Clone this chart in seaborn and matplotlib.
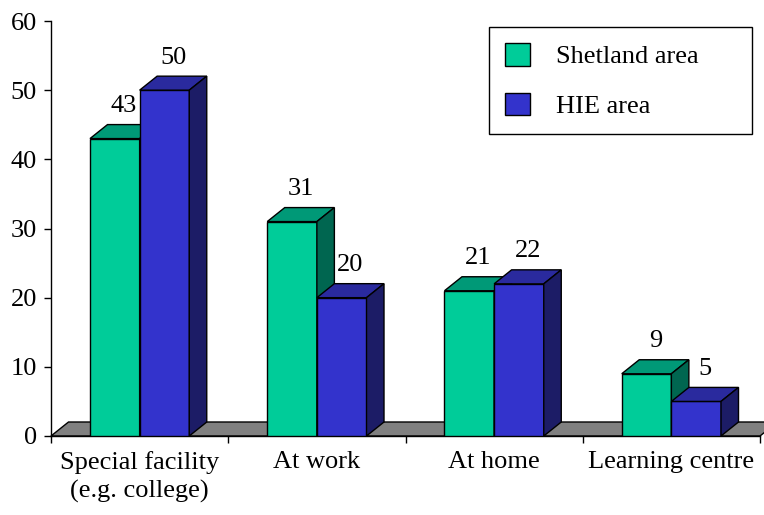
import matplotlib
matplotlib.use("Agg")
import matplotlib.pyplot as plt
import numpy as np
import pandas as pd
import seaborn as sns
from matplotlib.patches import Polygon, Patch

# ---------------- data ----------------
categories = ["Special facility\n(e.g. college)", "At work", "At home", "Learning centre"]
series_names = ["Shetland area", "HIE area"]
shetland = [43, 31, 21, 9]
hie = [50, 20, 22, 5]
y_ticks = [0, 10, 20, 30, 40, 50, 60]

# ---------------- style ----------------
front_col = {"Shetland area": "#00CC99", "HIE area": "#3333CC"}
top_col = {"Shetland area": "#009977", "HIE area": "#2A2A9E"}
side_col = {"Shetland area": "#006650", "HIE area": "#1C1C66"}
FS = 19
DX_PX, DY_PX = 17.5, 14.0   # depth offset of the 3-D look, in pixels

sns.set_theme(style="ticks")
plt.rcParams["font.family"] = ["Liberation Serif", "DejaVu Serif"]
plt.rcParams.update({
    "text.color": "black", "axes.labelcolor": "black",
    "xtick.color": "black", "ytick.color": "black",
    "axes.edgecolor": "black",
})

df = pd.DataFrame({
    "category": categories * 2,
    "series": [s for s in series_names for _ in categories],
    "value": shetland + hie,
})

W, H = 764, 515
fig = plt.figure(figsize=(W / 100, H / 100), dpi=100)
ax = fig.add_axes([51 / W, 1 - 436 / H, (760 - 51) / W, (436 - 21) / H])

sns.barplot(data=df, x="category", y="value", hue="series",
            order=categories, hue_order=series_names, palette=front_col,
            width=0.56, saturation=1, edgecolor="black", linewidth=1.0,
            errorbar=None, legend=False, ax=ax)

ax.set_xlim(-0.5, len(categories) - 0.5)
ax.set_ylim(y_ticks[0], y_ticks[-1])

# convert pixel depth to data units
x_per_px = (ax.get_xlim()[1] - ax.get_xlim()[0]) / (760 - 51)
y_per_px = (ax.get_ylim()[1] - ax.get_ylim()[0]) / (436 - 21)
dx, dy = DX_PX * x_per_px, DY_PX * y_per_px

# floor
x0f, x1f = ax.get_xlim()
floor = Polygon([(x0f, 0), (x1f, 0), (x1f + dx, dy), (x0f + dx, dy)],
                closed=True, facecolor="#808080", edgecolor="black",
                linewidth=1.0, zorder=1, clip_on=False)
ax.add_patch(floor)

# 3-D faces and value labels
n = len(categories)
for i, p in enumerate(list(ax.patches)):
    if p is floor:
        continue
    s = series_names[i // n]
    z = 3 + series_names.index(s)
    p.set_zorder(z)
    x0, w, h = p.get_x(), p.get_width(), p.get_height()
    top = Polygon([(x0, h), (x0 + w, h), (x0 + w + dx, h + dy), (x0 + dx, h + dy)],
                  closed=True, facecolor=top_col[s], edgecolor="black",
                  linewidth=1.0, zorder=z, clip_on=False)
    side = Polygon([(x0 + w, 0), (x0 + w + dx, dy), (x0 + w + dx, h + dy), (x0 + w, h)],
                   closed=True, facecolor=side_col[s], edgecolor="black",
                   linewidth=1.0, zorder=z, clip_on=False)
    ax.add_patch(top)
    ax.add_patch(side)
    ax.text(x0 + w / 2 + dx / 2, h + dy + 12.5 * y_per_px, f"{h:.0f}",
            ha="center", va="baseline", fontsize=FS, zorder=6)

# axes / ticks
sns.despine(ax=ax, top=True, right=True)
ax.spines["left"].set_linewidth(1.0)
ax.spines["bottom"].set_linewidth(1.0)
ax.spines["left"].set_zorder(2)
ax.spines["bottom"].set_zorder(2)
ax.set_yticks(y_ticks)
ax.set_xticks(range(n))
ax.set_xticklabels(categories)
ax.set_xticks(np.arange(-0.5, n, 1.0), minor=True)
ax.tick_params(axis="x", which="major", length=0, pad=11, labelsize=FS)
ax.tick_params(axis="x", which="minor", length=5, width=1.0, direction="out")
ax.tick_params(axis="y", length=5, width=1.0, direction="out", pad=5, labelsize=FS)
for lbl in ax.get_xticklabels():
    lbl.set_linespacing(1.33)
ax.set_xlabel("")
ax.set_ylabel("")

# legend
handles = [Patch(facecolor=front_col[s], edgecolor="black", linewidth=1.0, label=s)
           for s in series_names]
leg = ax.legend(handles=handles, loc="upper left",
                bbox_to_anchor=(489 / W, 1 - 132 / H, 263 / W, 105 / H),
                bbox_transform=fig.transFigure, mode="expand", borderaxespad=0,
                fancybox=False, framealpha=1, edgecolor="black",
                handlelength=0.95, handleheight=0.95, handletextpad=1.0,
                labelspacing=0.92, borderpad=0.6, fontsize=FS)
leg.get_frame().set_linewidth(1.0)
leg.set_zorder(10)

fig.savefig("out.png", dpi=100)
